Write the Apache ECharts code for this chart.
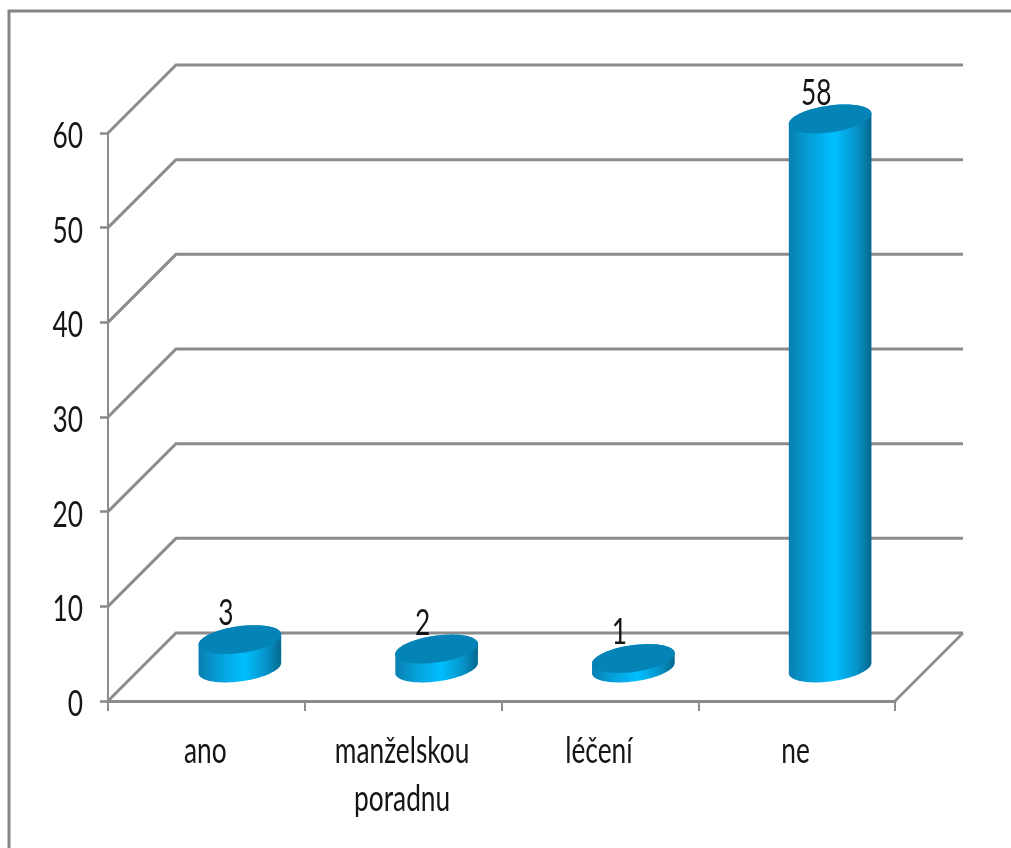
<!DOCTYPE html>
<html>
<head>
<meta charset="utf-8">
<style>html,body{margin:0;padding:0;background:#fff}#c{width:1011px;height:848px}</style>
<script src="https://cdn.jsdelivr.net/npm/echarts@6/dist/echarts.min.js"></script>
</head>
<body>
<div id="c"></div>
<script>
const categories = ['ano', 'manželskou\nporadnu', 'léčení', 'ne'];
const values = [3, 2, 1, 58];
const gridValues = [0, 10, 20, 30, 40, 50, 60];

const FONT = 'Lato, "Open Sans", sans-serif';
const TEXT_FONT = '36px ' + FONT;
const TEXT_COLOR = '#151515';
const SQUEEZE = 0.73;
const LINE = '#8c8c8c';
const DEPTH = 68;

function ellipse(cx, cy, a, b, s, from, to, n) {
  const pts = [];
  for (let i = 0; i <= n; i++) {
    const t = from + (to - from) * i / n;
    pts.push([cx + a * Math.cos(t), cy + b * Math.sin(t) - s * a * Math.cos(t)]);
  }
  return pts;
}

function label(text, x, y, align, vAlign, lineHeight) {
  return {
    type: 'text',
    x: x,
    y: y,
    scaleX: SQUEEZE,
    style: {
      text: text,
      x: 0,
      y: 0,
      align: align,
      verticalAlign: vAlign,
      lineHeight: lineHeight,
      font: TEXT_FONT,
      fill: TEXT_COLOR
    }
  };
}

function renderWall(params, api) {
  const cs = params.coordSys;
  const v = api.value(1);
  const y = api.coord([0, v])[1];
  const x0 = cs.x, x1 = cs.x + cs.width;
  const children = [
    {
      type: 'polyline',
      shape: { points: [[x0, y], [x0 + DEPTH, y - DEPTH], [x1 + DEPTH, y - DEPTH]] },
      style: { stroke: LINE, lineWidth: 3, fill: null }
    },
    label(String(v), x0 - 25, y + 3.5, 'right', 'middle')
  ];
  if (v === 0) {
    children.push({
      type: 'line',
      shape: { x1: x1, y1: y, x2: x1 + DEPTH, y2: y - DEPTH },
      style: { stroke: LINE, lineWidth: 2.6 }
    });
  }
  return { type: 'group', children };
}

function renderCategoryLabel(params, api) {
  const p = api.coord([api.value(0), 0]);
  return label(categories[api.value(0)], p[0] - 1, p[1] + 26, 'center', 'top', 48);
}

function renderCylinder(params, api) {
  const base = api.coord([api.value(0), 0]);
  const top = api.coord([api.value(0), api.value(1)]);
  const a = api.size([1, 0])[0] * 0.21;
  const cx = base[0] + DEPTH / 2 - 0.5;
  const yb = base[1] - DEPTH / 2 + 1;
  const yt = top[1] - DEPTH / 2 + 1;
  const b = 13.5, s = 0.125;
  const pts = ellipse(cx, yt, a, b, s, Math.PI, 2 * Math.PI, 40)
    .concat(ellipse(cx, yb, a, b, s, 0, Math.PI, 40));
  return {
    type: 'group',
    children: [
      {
        type: 'polygon',
        shape: { points: pts },
        style: {
          fill: {
            type: 'linear', x: 0, y: 0, x2: 1, y2: 0,
            colorStops: [
              { offset: 0, color: '#0a7fb0' },
              { offset: 0.25, color: '#059fd8' },
              { offset: 0.55, color: '#00bfff' },
              { offset: 0.82, color: '#0793c8' },
              { offset: 1, color: '#05688f' }
            ]
          }
        }
      },
      {
        type: 'polygon',
        shape: { points: ellipse(cx, yt, a, b, s, 0, 2 * Math.PI, 80) },
        style: { fill: '#0484b6' }
      },
      label(String(api.value(1)), cx - 14, yt - 26, 'center', 'middle')
    ]
  };
}

const chart = echarts.init(document.getElementById('c'), null, { renderer: 'canvas' });
chart.setOption({
  animation: false,
  backgroundColor: '#fff',
  graphic: [{
    type: 'polyline',
    silent: true,
    shape: { points: [[9, 848], [9, 11], [1011, 11]] },
    style: { stroke: '#848484', lineWidth: 3, fill: null }
  }],
  grid: { left: 108, right: 116, top: 133, bottom: 147 },
  xAxis: {
    type: 'category',
    data: categories,
    axisLine: { lineStyle: { color: LINE, width: 3 } },
    axisTick: { show: true, alignWithLabel: false, length: 10, lineStyle: { color: LINE, width: 2 } },
    axisLabel: { show: false },
    splitLine: { show: false }
  },
  yAxis: {
    type: 'value',
    min: 0,
    max: 60,
    interval: 10,
    axisLine: { show: true, lineStyle: { color: LINE, width: 2 } },
    axisTick: { show: true, length: 8, lineStyle: { color: LINE, width: 2.6 } },
    axisLabel: { show: false },
    splitLine: { show: false }
  },
  series: [
    {
      type: 'custom',
      renderItem: renderWall,
      data: gridValues.map(v => [0, v]),
      silent: true,
      z: 1
    },
    {
      type: 'custom',
      renderItem: renderCategoryLabel,
      data: categories.map((c, i) => [i, 0]),
      silent: true,
      z: 2
    },
    {
      type: 'custom',
      renderItem: renderCylinder,
      data: values.map((v, i) => [i, v]),
      z: 3
    }
  ]
});
</script>
</body>
</html>
